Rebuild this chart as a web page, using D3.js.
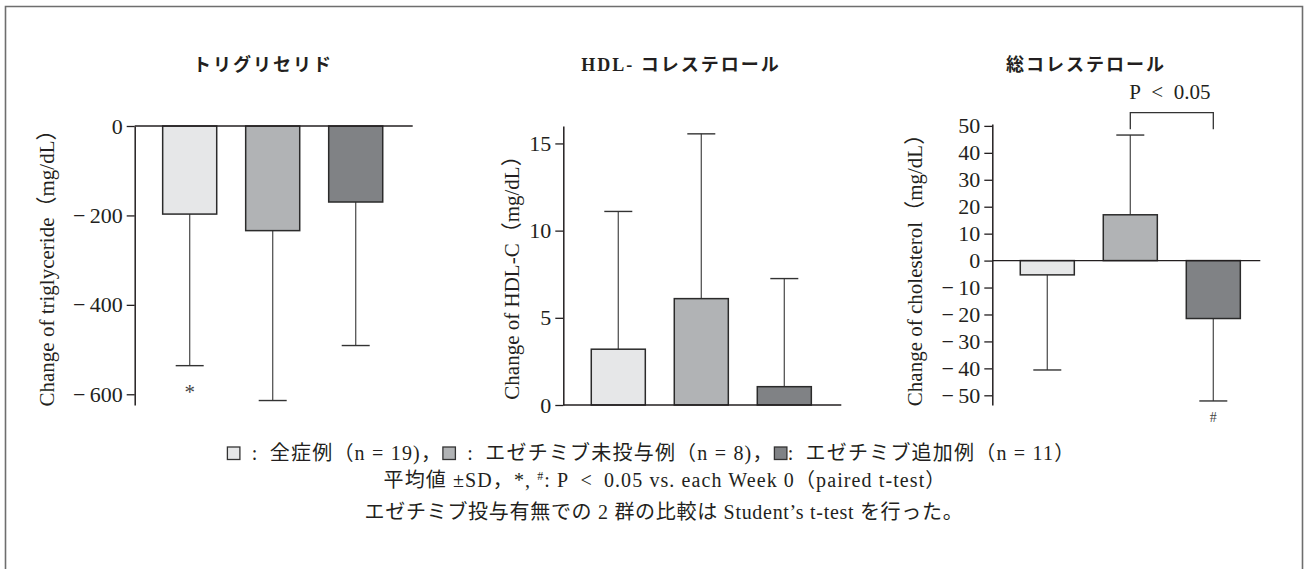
<!DOCTYPE html>
<html>
<head>
<meta charset="utf-8">
<script src="https://cdn.jsdelivr.net/npm/d3@7"></script>
<style>
  body { margin: 0; background: #fff; }
  svg { display: block; }
</style>
</head>
<body>
<svg id="chart" width="1306" height="569"></svg>
<script>
// ---- data ----
const groupNames = ["全症例", "エゼチミブ未投与例", "エゼチミブ追加例"];
const groupN = [19, 8, 11];
const groupFill = ["#e6e7e8", "#b1b3b5", "#808285"];

const panelTitles = ["トリグリセリド", "HDL- コレステロール", "総コレステロール"];
const axisLabels = ["Change of triglyceride（mg/dL）", "Change of HDL-C（mg/dL）", "Change of cholesterol（mg/dL）"];

// triglyceride change (mean, SD)
const tgMean = [-197, -234, -170];
const tgSD = [339, 380, 321];
const tgTicks = [0, -200, -400, -600];
const tgDomain = [-624, 0];
const tgMarks = ["*", "", ""];

// HDL-C change (mean, SD)
const hdlMean = [3.2, 6.1, 1.05];
const hdlSD = [7.9, 9.45, 6.2];
const hdlTicks = [0, 5, 10, 15];
const hdlDomain = [0, 16];
const hdlMarks = ["", "", ""];

// total cholesterol change (mean, SD)
const tcMean = [-5.3, 17, -21.5];
const tcSD = [35.3, 29.6, 30.6];
const tcTicks = [50, 40, 30, 20, 10, 0, -10, -20, -30, -40, -50];
const tcDomain = [-53.6, 50.7];
const tcMarks = ["", "", "#"];

// between-group comparison in the cholesterol panel
const tcCompareGroups = [1, 2];
const tcCompareLabel = "P\u2002<\u20020.05";

// ---- layout ----
const FONT = "'Liberation Serif', 'Noto Sans CJK JP', serif";
const INK = "#231f20";
const svg = d3.select("#chart");

// outer frame
svg.append("path")
  .attr("d", "M5.5,569 V6.5 H1302.5 V569")
  .attr("fill", "none").attr("stroke", "#6e6e6e").attr("stroke-width", 1.6);

const panels = [
  { mean: tgMean, sd: tgSD, ticks: tgTicks, domain: tgDomain, marks: tgMarks,
    axisX: 134.7, top: 126, baseLen: 278, titleX: 263, labelX: -87.5, labelY: 263, markFont: 21, markDy: 33 },
  { mean: hdlMean, sd: hdlSD, ticks: hdlTicks, domain: hdlDomain, marks: hdlMarks,
    axisX: 563.3, top: 126, baseLen: 278, titleX: 681, labelX: -51.5, labelY: 272.5, markFont: 16, markDy: 29 },
  { mean: tcMean, sd: tcSD, ticks: tcTicks, domain: tcDomain, marks: tcMarks,
    axisX: 992.3, top: 124, baseLen: 268, titleX: 1086, labelX: -77.3, labelY: 265, markFont: 14, markDy: 21.5 }
];
const bottom = 405;

const band = d3.scaleBand().domain(d3.range(3)).range([0, 276])
  .paddingInner(0.349).paddingOuter(0.337);
const bw = band.bandwidth();
const capHalf = 14;

const fmt = v => v < 0 ? "\u2212\u2009" + Math.abs(v) : String(v);

panels.forEach((p, k) => {
  const y = d3.scaleLinear().domain(p.domain).range([bottom, p.top]);
  const g = svg.append("g").attr("transform", `translate(${p.axisX},0)`);

  // title
  svg.append("text")
    .attr("x", p.titleX).attr("y", 70.5)
    .attr("text-anchor", "middle")
    .style("font-family", FONT).style("font-weight", "bold")
    .style("font-size", "18px").style("letter-spacing", "2px")
    .attr("fill", INK)
    .text(panelTitles[k]);

  // y label
  g.append("text")
    .attr("transform", `translate(${p.labelX},${p.labelY}) rotate(-90)`)
    .attr("text-anchor", "middle").attr("dominant-baseline", "central")
    .style("font-family", FONT).style("font-size", "21px").attr("fill", INK)
    .text(axisLabels[k]);

  // error bars
  p.mean.forEach((m, i) => {
    const cx = band(i) + bw / 2;
    const end = m < 0 ? m - p.sd[i] : m + p.sd[i];
    g.append("line")
      .attr("x1", cx).attr("x2", cx)
      .attr("y1", y(m)).attr("y2", y(end))
      .attr("stroke", "#555").attr("stroke-width", 1.3);
    g.append("line")
      .attr("x1", cx - capHalf).attr("x2", cx + capHalf)
      .attr("y1", y(end)).attr("y2", y(end))
      .attr("stroke", "#333").attr("stroke-width", 1.4);
    if (p.marks[i]) {
      g.append("text")
        .attr("x", cx).attr("y", y(end) + p.markDy)
        .attr("text-anchor", "middle")
        .style("font-family", FONT).style("font-size", p.markFont + "px").attr("fill", "#444")
        .text(p.marks[i]);
    }
  });

  // bars
  g.selectAll("rect.bar").data(p.mean).join("rect")
    .attr("class", "bar")
    .attr("x", (d, i) => band(i))
    .attr("width", bw)
    .attr("y", d => y(Math.max(0, d)))
    .attr("height", d => Math.abs(y(d) - y(0)))
    .attr("fill", (d, i) => groupFill[i])
    .attr("stroke", "#2b2b2b").attr("stroke-width", 1.5);

  // zero baseline
  g.append("line")
    .attr("x1", 0).attr("x2", p.baseLen)
    .attr("y1", y(0)).attr("y2", y(0))
    .attr("stroke", INK).attr("stroke-width", 1.3);

  // axis
  const ax = g.append("g")
    .call(d3.axisLeft(y).tickValues(p.ticks).tickFormat(fmt)
      .tickSize(8).tickSizeOuter(0).tickPadding(4));
  ax.select(".domain").attr("stroke", INK).attr("stroke-width", 1.5);
  ax.selectAll(".tick line").attr("stroke", INK).attr("stroke-width", 1.3);
  ax.selectAll(".tick text")
    .style("font-family", FONT).style("font-size", "22px").attr("fill", INK);

  // comparison bracket
  if (k === 2) {
    const x1 = band(tcCompareGroups[0]) + bw / 2;
    const x2 = band(tcCompareGroups[1]) + bw / 2;
    const yt = y(50) - 13.3, yb = y(50) + 3.3;
    g.append("path")
      .attr("d", `M${x1},${yb} V${yt} H${x2} V${yb}`)
      .attr("fill", "none").attr("stroke", "#333").attr("stroke-width", 1.3);
    g.append("text")
      .attr("x", (x1 + x2) / 2 - 2).attr("y", 99)
      .attr("text-anchor", "middle")
      .style("font-family", FONT).style("font-size", "21px").attr("fill", INK)
      .text(tcCompareLabel);
  }
});

// ---- legend / notes ----
function legendLine(cx, baseline, pieces, spacing) {
  const g = svg.append("g");
  let x = 0;
  pieces.forEach(pc => {
    if (pc.rect !== undefined) {
      g.append("rect")
        .attr("x", x + 0.75).attr("y", baseline - 12.5)
        .attr("width", 12.5).attr("height", 12.5)
        .attr("fill", groupFill[pc.rect]).attr("stroke", "#333").attr("stroke-width", 1.3);
      x += 14;
    } else {
      const t = g.append("text")
        .attr("x", x).attr("y", baseline)
        .style("font-family", FONT).style("font-size", "20px").attr("fill", INK)
        .style("letter-spacing", spacing + "px")
        .style("white-space", "pre");
      pc.parts.forEach(part => {
        const ts = t.append("tspan").text(part.s);
        if (part.sup) ts.style("font-size", "12px").attr("dy", -7);
        if (part.down) ts.attr("dy", 7);
      });
      x += t.node().getComputedTextLength();
    }
  });
  g.attr("transform", `translate(${cx - x / 2},0)`);
}

legendLine(651, 459.5, [
  { rect: 0 }, { parts: [{ s: "\u2002:\u2002" + groupNames[0] + "（n = " + groupN[0] + ")，" }] },
  { rect: 1 }, { parts: [{ s: "\u2002:\u2002" + groupNames[1] + "（n = " + groupN[1] + ")，" }] },
  { rect: 2 }, { parts: [{ s: ":\u2002" + groupNames[2] + "（n = " + groupN[2] + "）" }] }
], 1.2);

legendLine(665, 487, [
  { parts: [
    { s: "平均値 ±SD，*, " }, { s: "#", sup: true }, { s: ": P\u2002<\u20020.05 vs. each Week 0（paired t-test）", down: true }
  ] }
], 1.1);

legendLine(664, 518.5, [
  { parts: [{ s: "エゼチミブ投与有無での 2 群の比較は Student’s t-test を行った。" }] }
], 0.7);
</script>
</body>
</html>
